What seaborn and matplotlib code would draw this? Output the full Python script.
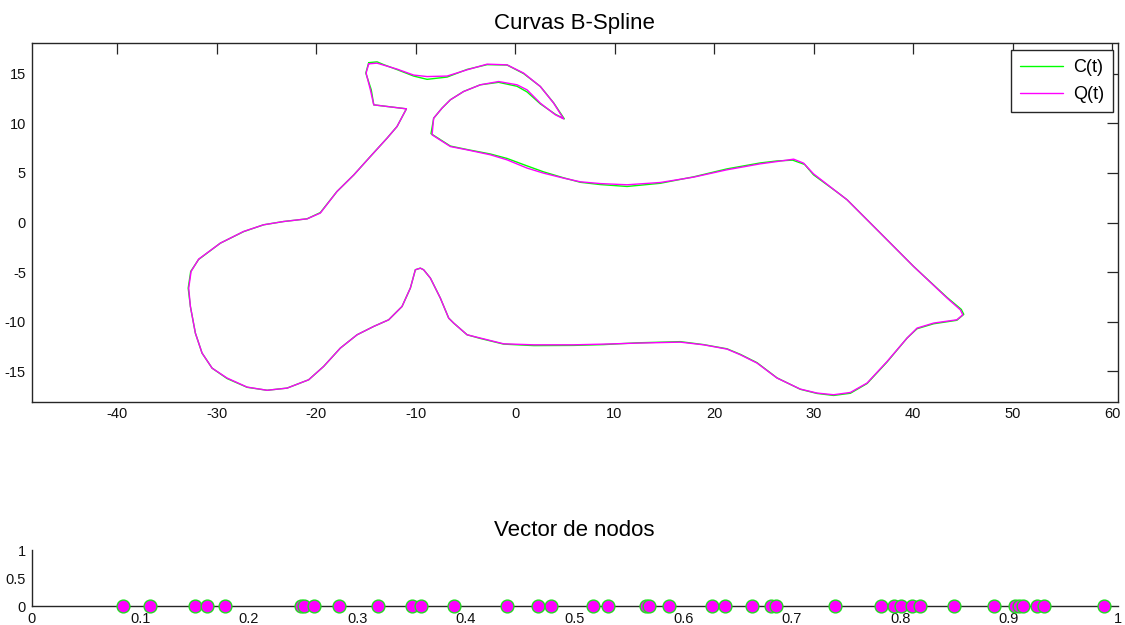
import numpy as np
import pandas as pd
import matplotlib
matplotlib.use("Agg")
import matplotlib.pyplot as plt
import seaborn as sns

# Curve C(t): sampled points of the original B-spline (closed outline)
c_x = [-14.71, -13.87, -13.2, -11.86, -10.19, -8.84, -6.83, -4.82, -2.81, -0.8,
       0.86, 2.54, 3.88, 4.95, 4.05, 2.54, 1.21, 0.2, -1.65, -3.49,
       -5.17, -6.5, -7.34, -8.18, -8.45, -6.5, -4.82, -2.48, -0.8, 1.21,
       2.87, 4.88, 6.56, 8.57, 11.26, 14.6, 17.95, 21.3, 24.65, 26.33,
       27.9, 29.1, 30.0, 32.5, 33.37, 36.72, 40.06, 43.42, 44.85, 45.1,
       44.4, 42.07, 40.4, 39.4, 37.39, 35.38, 33.7, 32.02, 30.35, 28.67,
       26.33, 24.32, 22.64, 21.3, 18.95, 16.61, 12.26, 8.9, 5.89, 1.87,
       -1.15, -3.49, -4.82, -6.17, -6.67, -7.51, -8.51, -9.19, -9.52, -10.02,
       -10.52, -11.36, -12.7, -14.21, -15.88, -17.56, -19.24, -20.74, -22.91, -24.92,
       -26.93, -28.94, -30.45, -31.46, -32.13, -32.63, -32.85, -32.6, -31.8, -29.62,
       -27.28, -25.27, -23.26, -20.9, -19.57, -17.9, -16.2, -14.54, -12.86, -11.86,
       -10.92, -14.2, -14.45, -15.0, -14.71]
c_y = [16.1, 16.18, 15.9, 15.4, 14.75, 14.42, 14.65, 15.42, 15.9, 15.86,
       15.0, 13.7, 12.05, 10.44, 10.9, 11.95, 13.15, 13.72, 14.12, 13.87,
       13.2, 12.36, 11.52, 10.5, 8.95, 7.7, 7.35, 6.9, 6.45, 5.7,
       5.1, 4.5, 4.05, 3.82, 3.63, 3.95, 4.6, 5.4, 6.0, 6.2,
       6.28, 5.85, 4.8, 2.96, 2.29, -1.07, -4.43, -7.55, -8.75, -9.25,
       -9.85, -10.2, -10.7, -11.64, -14.05, -16.22, -17.2, -17.42, -17.22, -16.8,
       -15.65, -14.12, -13.28, -12.72, -12.3, -12.0, -12.12, -12.3, -12.38, -12.4,
       -12.25, -11.68, -11.31, -10.13, -9.63, -7.61, -5.6, -4.76, -4.6, -4.76,
       -6.6, -8.46, -9.8, -10.47, -11.31, -12.65, -14.5, -15.84, -16.68, -16.9,
       -16.6, -15.72, -14.67, -13.15, -11.14, -8.46, -6.61, -4.93, -3.72, -2.08,
       -0.92, -0.23, 0.1, 0.37, 1.0, 3.12, 4.8, 6.65, 8.5, 9.67,
       11.45, 11.85, 13.36, 15.05, 16.1]

# Curve Q(t): sampled points of the modified B-spline
q_x = [-14.71, -13.87, -13.2, -11.86, -10.19, -8.84, -6.83, -4.82, -2.81, -0.8,
       0.86, 2.54, 3.88, 4.88, 4.05, 2.54, 1.21, 0.2, -1.65, -3.49,
       -5.17, -6.5, -7.34, -8.18, -8.34, -6.5, -4.82, -2.48, -0.8, 1.21,
       2.87, 4.88, 6.56, 8.57, 11.26, 14.6, 17.95, 21.3, 24.65, 26.33,
       28.0, 29.0, 30.0, 32.5, 33.37, 36.72, 40.06, 43.42, 44.75, 45.0,
       44.4, 42.07, 40.4, 39.4, 37.39, 35.38, 33.7, 32.02, 30.35, 28.67,
       26.33, 24.32, 22.64, 21.3, 18.95, 16.61, 12.26, 8.9, 5.89, 1.87,
       -1.15, -3.49, -4.82, -6.17, -6.67, -7.51, -8.51, -9.19, -9.52, -10.02,
       -10.52, -11.36, -12.7, -14.21, -15.88, -17.56, -19.24, -20.74, -22.91, -24.92,
       -26.93, -28.94, -30.45, -31.46, -32.13, -32.63, -32.8, -32.56, -31.8, -29.62,
       -27.28, -25.27, -23.26, -20.9, -19.57, -17.9, -16.2, -14.54, -12.86, -11.86,
       -10.92, -14.2, -14.54, -14.97, -14.71]
q_y = [15.98, 16.05, 15.85, 15.45, 14.85, 14.7, 14.75, 15.38, 15.95, 15.88,
       15.05, 13.7, 12.02, 10.44, 10.85, 12.02, 13.36, 13.87, 14.2, 13.87,
       13.19, 12.36, 11.52, 10.51, 8.83, 7.65, 7.32, 6.82, 6.31, 5.48,
       4.97, 4.47, 4.1, 3.92, 3.8, 4.03, 4.57, 5.31, 5.91, 6.14,
       6.38, 5.98, 4.9, 2.96, 2.29, -1.07, -4.43, -7.61, -8.79, -9.3,
       -9.8, -10.13, -10.64, -11.64, -14.0, -16.17, -17.12, -17.35, -17.18, -16.78,
       -15.67, -14.16, -13.32, -12.75, -12.32, -12.05, -12.15, -12.25, -12.32, -12.32,
       -12.22, -11.64, -11.31, -10.13, -9.63, -7.61, -5.6, -4.76, -4.6, -4.76,
       -6.6, -8.46, -9.8, -10.47, -11.31, -12.65, -14.5, -15.84, -16.68, -16.9,
       -16.58, -15.67, -14.67, -13.15, -11.14, -8.46, -6.61, -4.93, -3.69, -2.08,
       -0.9, -0.23, 0.1, 0.37, 0.95, 3.12, 4.8, 6.65, 8.5, 9.67,
       11.45, 11.85, 13.36, 15.05, 15.98]

# Knot vector
nodos = [0.0845, 0.109, 0.1505, 0.162, 0.178, 0.248, 0.2505, 0.26, 0.2835, 0.319,
         0.350, 0.3585, 0.3895, 0.438, 0.4665, 0.478, 0.517, 0.531, 0.5655, 0.5687,
         0.5866, 0.6265, 0.639, 0.6636, 0.6805, 0.6851, 0.7395, 0.7825, 0.7943, 0.8006,
         0.8106, 0.818, 0.849, 0.886, 0.906, 0.9094, 0.9127, 0.926, 0.9326, 0.9877]

sns.set_style("white")
plt.rcParams["font.family"] = ["Liberation Sans", "DejaVu Sans"]
plt.rcParams["axes.unicode_minus"] = False
plt.rcParams["text.color"] = "black"

W, H = 1125, 625
fig = plt.figure(figsize=(W / 100, H / 100), dpi=100)

left_px, right_px = 31.5, 1117.5
ax1 = fig.add_axes([left_px / W, 1 - 401.7 / H, (right_px - left_px) / W, 358.4 / H])
ax2 = fig.add_axes([left_px / W, 1 - 606 / H, (right_px - left_px) / W, 56 / H])

curves = pd.concat([
    pd.DataFrame({"x": c_x, "y": c_y, "curva": "C(t)"}),
    pd.DataFrame({"x": q_x, "y": q_y, "curva": "Q(t)"}),
])

sns.lineplot(data=curves, x="x", y="y", hue="curva",
             palette={"C(t)": "#00ff00", "Q(t)": "#ff00ff"}, sort=False,
             estimator=None, linewidth=1.0, ax=ax1)

ax1.set_xlim(-48.6, 60.55)
ax1.set_ylim(-18.05, 18.05)
ax1.set_xticks(np.arange(-40, 61, 10))
ax1.set_yticks(np.arange(-15, 16, 5))
ax1.set_xlabel("")
ax1.set_ylabel("")
ax1.set_title("Curvas B-Spline", fontsize=16, pad=10.5, color="black")
ax1.tick_params(direction="in", length=8, width=0.9, top=True, right=True,
                labelsize=10.5, pad=4, colors="#262626", labelcolor="#111111")
for s in ax1.spines.values():
    s.set_color("#262626")
    s.set_linewidth(1.0)

leg = ax1.legend(loc="upper right", bbox_to_anchor=(1113 / W, 1 - 50 / H),
                 bbox_transform=fig.transFigure, borderaxespad=0, fontsize=13,
                 fancybox=False, framealpha=1, edgecolor="#262626",
                 handlelength=2.4, handletextpad=0.55, borderpad=0.5,
                 labelspacing=0.55, title=None)
leg.get_frame().set_linewidth(1.0)
for line in leg.get_lines():
    line.set_linewidth(1.0)
for txt in leg.get_texts():
    txt.set_color("black")

# Knot vector panel
knots = pd.DataFrame({"t": nodos, "y": np.zeros(len(nodos))})
sns.scatterplot(data=knots, x="t", y="y", s=85, color="#ff00ff", edgecolor="#22dd22",
                linewidth=1.0, ax=ax2, clip_on=False, zorder=5)
ax2.set_xlim(0, 1)
ax2.set_ylim(0, 1)
ax2.set_xticks(np.arange(0, 1.01, 0.1))
ax2.set_xticklabels(["0", "0.1", "0.2", "0.3", "0.4", "0.5", "0.6", "0.7", "0.8", "0.9", "1"])
ax2.set_yticks([0, 0.5, 1])
ax2.set_yticklabels(["0", "0.5", "1"])
ax2.set_xlabel("")
ax2.set_ylabel("")
ax2.set_title("Vector de nodos", fontsize=16, pad=10, color="black")
ax2.spines["top"].set_visible(False)
ax2.spines["right"].set_visible(False)
for s in ("left", "bottom"):
    ax2.spines[s].set_color("#262626")
    ax2.spines[s].set_linewidth(1.0)
ax2.tick_params(direction="in", length=8, width=0.9, labelsize=10.5, pad=4,
                colors="#262626", labelcolor="#111111")

fig.savefig("out.png", dpi=100)
